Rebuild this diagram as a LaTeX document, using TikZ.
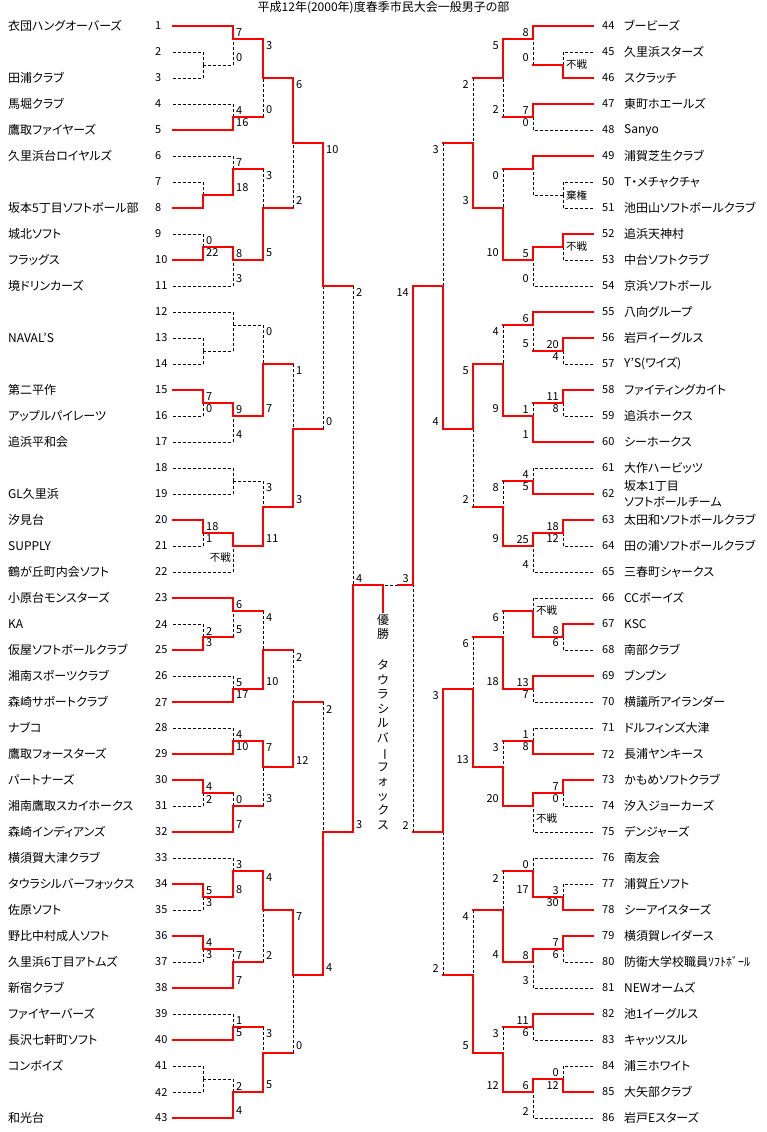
\documentclass[tikz,border=0pt]{standalone}
\usepackage{fontspec}
\setmainfont{Noto Sans CJK JP}[RawFeature=+palt]
\usetikzlibrary{positioning,calc}

\begin{document}
\begin{tikzpicture}[x=1pt,y=-1pt,
  won/.style={draw=red, line width=2pt, line cap=rect},
  lost/.style={draw=black, line width=0.8pt, dash pattern=on 3pt off 2pt},
  team/.style={anchor=west, inner sep=0pt, align=left, font=\fontsize{12}{16}\selectfont},
  seed/.style={anchor=west, inner sep=0pt, font=\fontsize{11}{13}\selectfont},
  scoreL/.style={anchor=west, inner sep=0pt, font=\fontsize{11}{13}\selectfont},
  scoreR/.style={anchor=east, inner sep=0pt, font=\fontsize{11}{13}\selectfont},
  note/.style={inner sep=0pt, font=\fontsize{10.5}{12}\selectfont},
  vtext/.style={inner sep=0pt, align=center, font=\fontsize{12}{14.5}\selectfont}]
  \useasboundingbox (0,0) rectangle (767,1132);
  \node[team, anchor=center] (title) at (383.5,8) {平成12年(2000年)度春季市民大会一般男子の部};

  % seeds and line ends
  \foreach \i in {1,...,43} {
    \node[seed] (k\i) at (155,26*\i) {\i};
    \coordinate (t\i) at (173,26*\i);
  }
  \foreach \i in {44,...,86} {
    \node[seed] (k\i) at (602,{26*(\i-43)}) {\i};
    \coordinate (t\i) at (593,{26*(\i-43)});
  }

  % team names
  \foreach \i/\n in {1/衣団ハングオーバーズ, 3/田浦クラブ, 4/馬堀クラブ, 5/鷹取ファイヤーズ,
      6/久里浜台ロイヤルズ, 8/坂本5丁目ソフトボール部, 9/城北ソフト, 10/フラッグス, 11/境ドリンカーズ,
      13/NAVAL’S, 15/第二平作, 16/アップルパイレーツ, 17/追浜平和会, 19/GL久里浜, 20/汐見台,
      21/SUPPLY, 22/鶴が丘町内会ソフト, 23/小原台モンスターズ, 24/KA, 25/仮屋ソフトボールクラブ,
      26/湘南スポーツクラブ, 27/森崎サポートクラブ, 28/ナブコ, 29/鷹取フォースターズ, 30/パートナーズ,
      31/湘南鷹取スカイホークス, 32/森崎インディアンズ, 33/横須賀大津クラブ, 34/タウラシルバーフォックス,
      35/佐原ソフト, 36/野比中村成人ソフト, 37/久里浜6丁目アトムズ, 38/新宿クラブ, 39/ファイヤーバーズ,
      40/長沢七軒町ソフト, 41/コンボイズ, 43/和光台}
    \node[team] (n\i) at (8,26*\i) {\n};
  \foreach \i/\n in {44/ブービーズ, 45/久里浜スターズ, 46/スクラッチ, 47/東町ホエールズ, 48/Sanyo,
      49/浦賀芝生クラブ, 50/T・メチャクチャ, 51/池田山ソフトボールクラブ, 52/追浜天神村, 53/中台ソフトクラブ,
      54/京浜ソフトボール, 55/八向グループ, 56/岩戸イーグルス, 57/Y’S(ワイズ), 58/ファイティングカイト,
      59/追浜ホークス, 60/シーホークス, 61/大作ハービッツ, 62/{坂本1丁目\\ソフトボールチーム},
      63/太田和ソフトボールクラブ, 64/田の浦ソフトボールクラブ, 65/三春町シャークス, 66/CCボーイズ,
      67/KSC, 68/南部クラブ, 69/ブンブン, 70/横議所アイランダー, 71/ドルフィンズ大津, 72/長浦ヤンキース,
      73/かもめソフトクラブ, 74/汐入ジョーカーズ, 75/デンジャーズ, 76/南友会, 77/浦賀丘ソフト,
      78/シーアイスターズ, 79/横須賀レイダース, 80/防衛大学校職員ｿﾌﾄﾎﾞｰﾙ, 81/NEWオームズ,
      82/池1イーグルス, 83/キャッツスル, 84/浦三ホワイト, 85/大矢部クラブ, 86/岩戸Eスターズ}
    \node[team] (n\i) at (624,{26*(\i-43)}) {\n};

  % left half: match/column/row/upper/lower/styles/scores
  \foreach \m/\x/\h/\up/\dn/\uh/\uv/\dh/\dv/\su/\sd in {
      a1/203/5/t2/t3/lost/lost/lost/lost//,
      a2/233/3/t1/a1/won/won/lost/lost/7/0,
      a3/233/9/t4/t5/lost/lost/won/won/4/16,
      a4/263/6/a2/a3/won/won/won/lost/3/0,
      a5/203/15/t7/t8/lost/lost/won/won//,
      a6/233/13/t6/a5/lost/lost/won/won/7/18,
      a7/203/19/t9/t10/lost/lost/won/won/0/22,
      a8/233/20/a7/t11/won/won/lost/lost/8/3,
      a9/263/16/a6/a8/won/lost/won/won/3/5,
      a10/293/11/a4/a9/won/won/won/lost/6/2,
      a11/203/27/t13/t14/lost/lost/lost/lost//,
      a12/233/25/t12/a11/lost/lost/lost/lost//,
      a13/203/31/t15/t16/won/won/lost/lost/7/0,
      a14/233/32/a13/t17/won/won/lost/lost/9/4,
      a15/263/28/a12/a14/lost/lost/won/won/0/7,
      a16/233/37/t18/t19/lost/lost/lost/lost//,
      a17/203/41/t20/t21/won/won/lost/lost/18/1,
      a18/233/42/a17/t22/won/won/lost/lost//,
      a19/263/39/a16/a18/lost/lost/won/won/3/11,
      a20/293/33/a15/a19/won/lost/won/won/1/3,
      a21/323/22/a10/a20/won/won/won/lost/10/0,
      a22/203/49/t24/t25/lost/lost/won/won/2/3,
      a23/233/47/t23/a22/won/won/won/lost/6/5,
      a24/233/53/t26/t27/lost/lost/won/won/5/17,
      a25/263/50/a23/a24/won/lost/won/won/4/10,
      a26/233/57/t28/t29/lost/lost/won/won/4/10,
      a27/203/61/t30/t31/won/won/lost/lost/4/2,
      a28/233/62/a27/t32/won/lost/won/won/0/7,
      a29/263/59/a26/a28/won/won/won/lost/7/3,
      a30/293/54/a25/a29/won/lost/won/won/2/12,
      a31/203/69/t34/t35/won/won/lost/lost/5/3,
      a32/233/67/t33/a31/lost/lost/won/won/3/8,
      a33/203/73/t36/t37/won/won/lost/lost/4/3,
      a34/233/74/a33/t38/won/lost/won/won/7/7,
      a35/263/70/a32/a34/won/won/won/lost/4/2,
      a36/233/79/t39/t40/lost/lost/won/won/1/5,
      a37/203/83/t41/t42/lost/lost/lost/lost//,
      a38/233/84/a37/t43/lost/lost/won/won/2/4,
      a39/263/81/a36/a38/won/lost/won/won/3/5,
      a40/293/75/a35/a39/won/won/won/lost/7/0,
      a41/323/64/a30/a40/won/lost/won/won/2/4,
      a42/353/45/a21/a41/won/lost/won/won/2/3} {
    \coordinate (\m) at (\x,13*\h);
    \draw[\uh] (\up) -- (\up -| \m);
    \draw[\dh] (\dn) -- (\dn -| \m);
    \draw[\uv] (\up -| \m) -- (\m);
    \draw[\dv] (\dn -| \m) -- (\m);
    \edef\tmp{\su}\ifx\tmp\empty\else
      \node[scoreL] (su\m) at ($(\up -| \m)+(3,7)$) {\su};
      \node[scoreL] (sd\m) at ($(\dn -| \m)+(3,-7)$) {\sd};
    \fi
  }

  % right half
  \foreach \m/\x/\h/\up/\dn/\uh/\uv/\dh/\dv/\su/\sd in {
      b1/563/5/t45/t46/lost/lost/won/won//,
      b2/533/3/t44/b1/won/won/won/lost/8/0,
      b3/533/9/t47/t48/won/won/lost/lost/7/0,
      b4/503/6/b2/b3/won/won/won/lost/5/2,
      b5/563/15/t50/t51/lost/lost/lost/lost//,
      b6/533/13/t49/b5/won/won/lost/lost//,
      b7/563/19/t52/t53/won/won/lost/lost//,
      b8/533/20/b7/t54/won/won/lost/lost/5/0,
      b9/503/16/b6/b8/won/lost/won/won/0/10,
      b10/473/11/b4/b9/won/lost/won/won/2/3,
      b11/563/27/t56/t57/won/won/lost/lost/20/4,
      b12/533/25/t55/b11/won/won/won/lost/6/5,
      b13/563/31/t58/t59/won/won/lost/lost/11/8,
      b14/533/32/b13/t60/won/lost/won/won/1/1,
      b15/503/28/b12/b14/won/lost/won/won/4/9,
      b16/533/37/t61/t62/lost/lost/won/won/4/5,
      b17/563/41/t63/t64/won/won/lost/lost/18/12,
      b18/533/42/b17/t65/won/won/lost/lost/25/4,
      b19/503/39/b16/b18/won/lost/won/won/8/9,
      b20/473/33/b15/b19/won/won/won/lost/5/2,
      b21/443/22/b10/b20/won/lost/won/won/3/4,
      b22/563/49/t67/t68/won/won/lost/lost/8/6,
      b23/533/47/t66/b22/lost/lost/won/won//,
      b24/533/53/t69/t70/won/won/lost/lost/13/7,
      b25/503/49/b23/b24/won/lost/won/won/6/18,
      b26/533/57/t71/t72/lost/lost/won/won/1/8,
      b27/563/61/t73/t74/won/won/lost/lost/7/0,
      b28/533/62/b27/t75/won/won/lost/lost//,
      b29/503/59/b26/b28/won/lost/won/won/3/20,
      b30/473/53/b25/b29/won/lost/won/won/6/13,
      b31/563/69/t77/t78/lost/lost/won/won/3/30,
      b32/533/67/t76/b31/lost/lost/won/won/0/17,
      b33/563/73/t79/t80/won/won/lost/lost/7/6,
      b34/533/74/b33/t81/won/won/lost/lost/8/3,
      b35/503/70/b32/b34/won/lost/won/won/2/4,
      b36/533/79/t82/t83/won/won/lost/lost/11/6,
      b37/563/83/t84/t85/lost/lost/won/won/0/12,
      b38/533/84/b37/t86/won/won/lost/lost/6/2,
      b39/503/81/b36/b38/won/lost/won/won/3/12,
      b40/473/75/b35/b39/won/lost/won/won/4/5,
      b41/443/64/b30/b40/won/won/won/lost/3/2,
      b42/413/45/b21/b41/won/won/won/lost/14/2} {
    \coordinate (\m) at (\x,13*\h);
    \draw[\uh] (\up) -- (\up -| \m);
    \draw[\dh] (\dn) -- (\dn -| \m);
    \draw[\uv] (\up -| \m) -- (\m);
    \draw[\dv] (\dn -| \m) -- (\m);
    \edef\tmp{\su}\ifx\tmp\empty\else
      \node[scoreR] (su\m) at ($(\up -| \m)+(-4,7)$) {\su};
      \node[scoreR] (sd\m) at ($(\dn -| \m)+(-4,-7)$) {\sd};
    \fi
  }

  % byes and withdrawal
  \node[note, anchor=east] (bye1) at ($(a18)+(-2,12)$) {不戦};
  \node[note, anchor=west] (bye2) at ($(b1)+(3,0)$) {不戦};
  \node[note, anchor=west] (wdr) at ($(b5)+(3,0)$) {棄権};
  \node[note, anchor=west] (bye3) at ($(b7)+(3,0)$) {不戦};
  \node[note, anchor=west] (bye4) at ($(b23)+(3,0)$) {不戦};
  \node[note, anchor=west] (bye5) at ($(b28)+(3,13)$) {不戦};

  % final
  \coordinate (fin) at (383,585);
  \coordinate (finr) at (398,585);
  \coordinate (cup) at (383,612);
  \draw[lost] (finr) -- (fin);
  \draw[won] (a42) -- (fin) -- (cup);
  \draw[won] (b42) -- (finr);
  \node[scoreL] (sfl) at ($(a42)+(3,-6)$) {4};
  \node[scoreR] (sfr) at ($(b42)+(-4,-6)$) {3};
  \node[vtext, anchor=north] (champ) at (383,614) {優\\勝};
  \node[vtext, below=20pt of champ] (champname)
    {タ\\ウ\\ラ\\シ\\ル\\バ\\\rotatebox[origin=c]{-90}{ー}\\フ\\ォ\\ッ\\ク\\ス};
\end{tikzpicture}
\end{document}
